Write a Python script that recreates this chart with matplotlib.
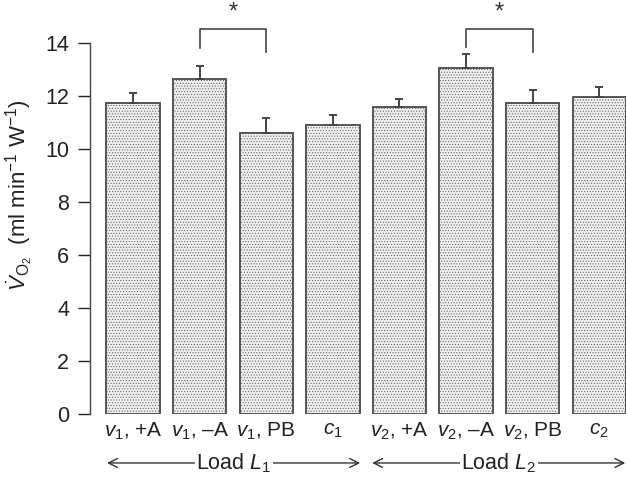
import numpy as np
import matplotlib.pyplot as plt

plt.rcParams['font.family'] = ['Liberation Sans', 'DejaVu Sans']
plt.rcParams['mathtext.fontset'] = 'custom'
plt.rcParams['mathtext.rm'] = 'Liberation Sans'
plt.rcParams['mathtext.it'] = 'Liberation Sans:italic'
plt.rcParams['hatch.color'] = '#a8a8a8'
plt.rcParams['hatch.linewidth'] = 0.4

labels = [r'$v_1$, +A', r'$v_1$, –A', r'$v_1$, PB', r'$c_1$',
          r'$v_2$, +A', r'$v_2$, –A', r'$v_2$, PB', r'$c_2$']
means = [11.75, 12.65, 10.62, 10.92, 11.58, 13.07, 11.73, 11.97]
errs = [0.35, 0.5, 0.56, 0.38, 0.32, 0.5, 0.48, 0.36]
# significance brackets: (left bar, right bar, left leg end, right leg end)
brackets = [(1, 2, 13.8, 13.65), (5, 6, 13.84, 13.67)]
bracket_top = 14.52
groups = ['Load $L_1$', 'Load $L_2$']

fig = plt.figure(figsize=(6.26, 4.8), dpi=100)
ax = fig.add_axes([0.1438, 0.1375, 0.8562, 0.7729])

x = np.arange(len(means))
ax.bar(x, means, width=0.8, color='#eeeeee', edgecolor='#555555',
       linewidth=1.4, hatch='......', zorder=2)
ax.errorbar(x, means, yerr=[np.zeros(len(errs)), errs], fmt='none',
            ecolor='#444444', elinewidth=1.4, capsize=3, capthick=1.4, zorder=3)

for l, r, yl, yr in brackets:
    ax.plot([l, l, r, r], [yl, bracket_top, bracket_top, yr], color='#444444',
            lw=1.2, clip_on=False)
    ax.text((l + r) / 2, bracket_top + 0.2, '*', ha='center', va='bottom',
            fontsize=17, color='#333333', clip_on=False)

ax.set_xlim(-0.645, 7.4)
ax.set_ylim(0, 14)
ax.set_yticks(np.arange(0, 15, 2))
ax.set_xticks(x)
ax.set_xticklabels(labels, fontsize=15, color='#222222')
ax.tick_params(axis='x', length=0, pad=5)
ax.tick_params(axis='y', length=9, width=1, labelsize=15.5, colors='#222222',
               pad=6, direction='out')
for s in ['top', 'right', 'bottom']:
    ax.spines[s].set_visible(False)
ax.spines['left'].set_color('#444444')
ax.spines['left'].set_linewidth(1)

ax.set_ylabel(r'$\dot{V}_{\mathrm{O}_2}$  (ml min$^{-1}$ W$^{-1}$)',
              fontsize=16, color='#222222')
ax.yaxis.set_label_coords(-0.103, 0.59)

# group arrows under the labels
tr = ax.get_xaxis_transform()
spans = [(-0.39, 3.41), (3.59, 7.39)]
for (a, b), g in zip(spans, groups):
    ax.annotate('', xy=(a, -0.132), xytext=(b, -0.132), xycoords=tr,
                textcoords=tr, annotation_clip=False,
                arrowprops=dict(arrowstyle='<->', color='#333333', lw=1,
                                mutation_scale=16, shrinkA=0, shrinkB=0))
    ax.text((a + b) / 2, -0.132, g, transform=tr, ha='center', va='center',
            fontsize=15.5, color='#222222',
            bbox=dict(facecolor='white', edgecolor='none', pad=1))

fig.savefig('out.png', dpi=100)
